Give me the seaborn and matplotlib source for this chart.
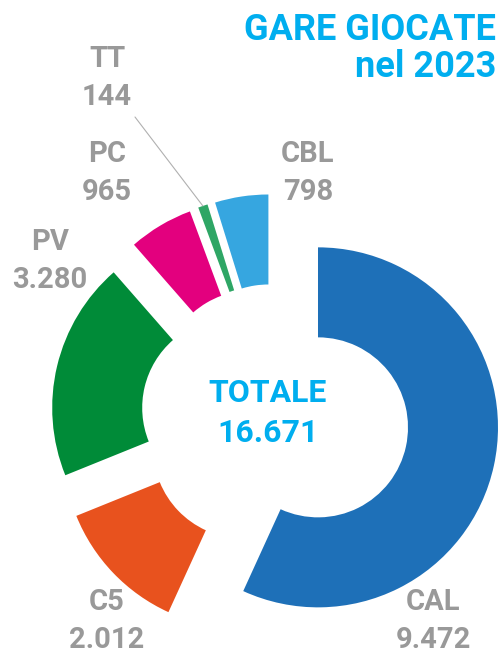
import matplotlib
matplotlib.use("Agg")
import matplotlib.pyplot as plt
import numpy as np
import seaborn as sns

sns.set_theme(style="white")
plt.rcParams['font.family'] = ['Roboto', 'DejaVu Sans']

# data
categories = ["CAL", "C5", "PV", "PC", "TT", "CBL"]
games = [9472, 2012, 3280, 965, 144, 798]
value_labels = ["9.472", "2.012", "3.280", "965", "144", "798"]
total_label = "16.671"
colors = ["#1e70b8", "#e8521e", "#008b38", "#e3007e", "#2ea665", "#36a6e0"]

W, H = 499, 653
CX, CY, R = 275, 418, 180  # pie centre / radius in pixels

def px(x, y):
    # pixel position -> data coords (radius 1 == R pixels)
    return (x - CX) / R, (CY - y) / R

fig = plt.figure(figsize=(W / 100, H / 100), dpi=100)
ax = fig.add_axes([0, 0, 1, 1])

wedges, _ = ax.pie(games, colors=colors, startangle=90, counterclock=False,
                   radius=1, explode=[44 / R] * len(games),
                   wedgeprops=dict(width=0.5, linewidth=0))

ax.set_xlim(px(0, 0)[0], px(W, 0)[0])
ax.set_ylim(px(0, H)[1], px(0, 0)[1])
ax.set_aspect("equal")
ax.axis("off")

gray = "#999999"
cyan = "#00aeef"
lab_pos = {"CAL": (433, 602), "C5": (107, 602), "PV": (50, 242),
           "PC": (107, 154), "TT": (107, 59), "CBL": (308, 154)}
for cat, val in zip(categories, value_labels):
    x, y = lab_pos[cat]
    ax.text(*px(x, y), cat, ha="center", va="center", fontsize=21,
            fontweight="bold", color=gray)
    ax.text(*px(x, y + 38), val, ha="center", va="center", fontsize=21,
            fontweight="bold", color=gray)

# leader line for the tiny TT slice
tt = wedges[categories.index("TT")]
ang = np.deg2rad((tt.theta1 + tt.theta2) / 2)
cx, cy = tt.center
ax.plot([cx + tt.r * np.cos(ang), px(135, 117)[0]],
        [cy + tt.r * np.sin(ang), px(135, 117)[1]],
        color="#b0b0b0", linewidth=0.8)

ax.text(*px(268, 393), "TOTALE", ha="center", va="center", fontsize=23,
        fontweight="bold", color=cyan)
ax.text(*px(268, 433), total_label, ha="center", va="center", fontsize=23,
        fontweight="bold", color=cyan)

ax.text(*px(496, 30), "GARE GIOCATE", ha="right", va="center", fontsize=26,
        fontweight="bold", color=cyan)
ax.text(*px(496, 67), "nel 2023", ha="right", va="center", fontsize=26,
        fontweight="bold", color=cyan)

fig.savefig("out.png", dpi=100)
